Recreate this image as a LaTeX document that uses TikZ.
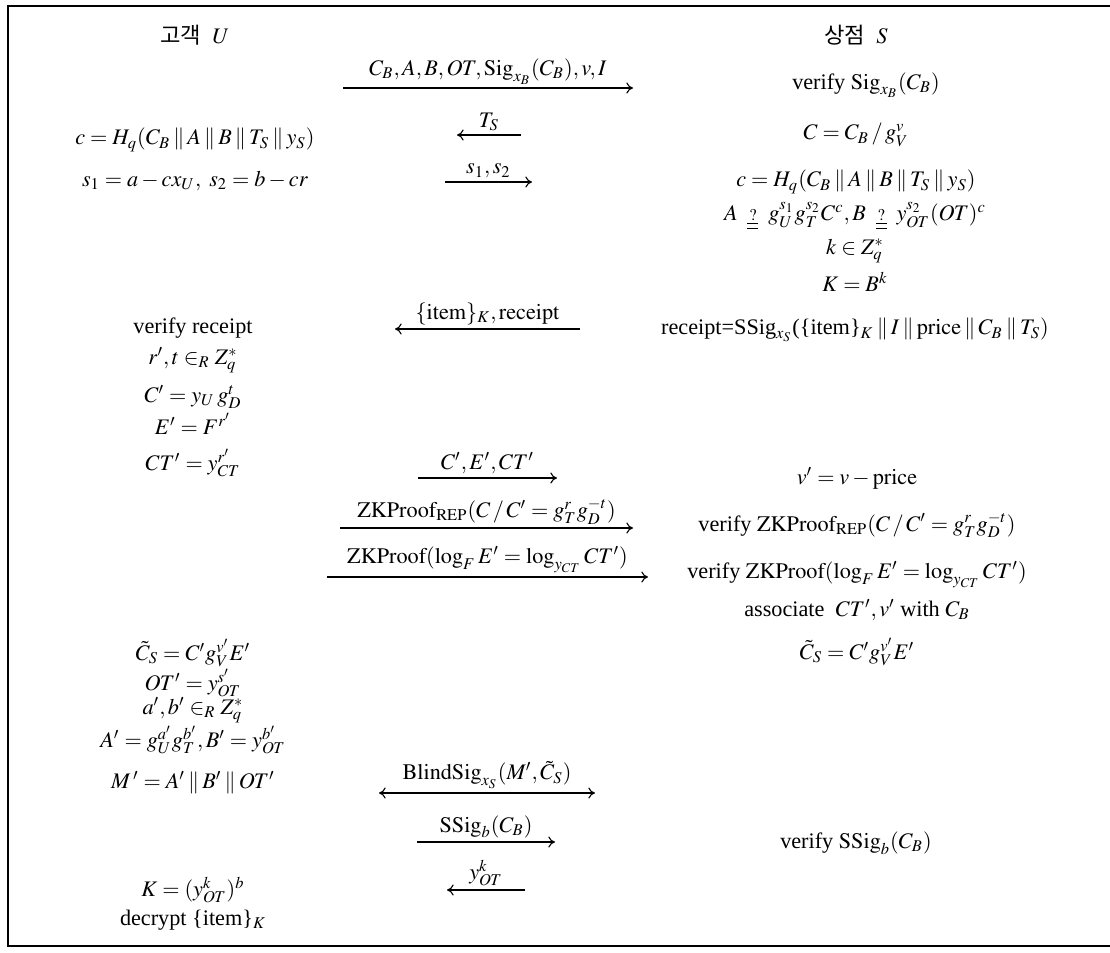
\documentclass[tikz,border=0pt]{standalone}
\usepackage{mathptmx}
\usepackage{fontspec}
\setmainfont{Liberation Serif}
\newfontfamily\kr{Noto Sans CJK KR}
\usetikzlibrary{arrows.meta}
\newcommand{\cc}{\mathbin{\|}}
\newcommand{\qeq}{\mathrel{\;\underline{\underline{\scriptstyle\,?\,}}\;}}
\begin{document}
\begin{tikzpicture}[x=0.45pt,y=-0.45pt,
  txt/.style={inner sep=0pt,anchor=center},
  msg/.style={line width=0.5pt,-{To[length=3pt,width=5pt]}},
  bmsg/.style={line width=0.5pt,{To[length=3pt,width=5pt]}-{To[length=3pt,width=5pt]}},
  lbl/.style={above,inner sep=1.5pt,midway},
  frame/.style={line width=0.8pt}]
\useasboundingbox (0,0) rectangle (1110,952);
% frame
\coordinate (f1) at (1110,6);
\coordinate (f2) at (8,6);
\coordinate (f3) at (8,946);
\coordinate (f4) at (1110,946);
\draw[frame] (f1) -- (f2) -- (f3) -- (f4);
% headers
\node[txt] (hu) at (195,35) {{\kr 고객}~~$U$};
\node[txt] (hs) at (856,35) {{\kr 상점}~~$S$};
% left column
\node[txt] (l1) at (195,140) {$c = H_q(C_B \cc A \cc B \cc T_S \cc y_S)$};
\node[txt] (l2) at (195,181) {$s_1 = a - cx_U,\ s_2 = b - cr$};
\node[txt] (l3) at (193,328) {verify receipt};
\node[txt] (l4) at (193,360) {$r',t \in_R Z_q^{*}$};
\node[txt] (l5) at (193,397) {$C' = y_U\, g_D^{t}$};
\node[txt] (l6) at (193,424) {$E' = F^{r'}$};
\node[txt] (l7) at (193,463) {$CT' = y_{CT}^{r'}$};
\node[txt] (l8) at (193,653) {$\tilde C_S = C' g_V^{v'} E'$};
\node[txt] (l9) at (193,683) {$OT' = y_{OT}^{s'}$};
\node[txt] (l10) at (193,710) {$a',b' \in_R Z_q^{*}$};
\node[txt] (l11) at (193,740) {$A' = g_U^{a'} g_T^{b'}, B' = y_{OT}^{b'}$};
\node[txt] (l12) at (193,783) {$M\,' = A' \cc B' \cc OT'$};
\node[txt] (l13) at (193,890) {$K = (y_{OT}^{k})^{b}$};
\node[txt] (l14) at (193,920) {decrypt \{item\}$_K$};
% right column
\node[txt] (r1) at (866,85) {verify $\mathrm{Sig}_{x_B}(C_B)$};
\node[txt] (r2) at (856,135) {$C = C_B \,/\, g_V^{v}$};
\node[txt] (r3) at (856,182) {$c = H_q(C_B \cc A \cc B \cc T_S \cc y_S)$};
\node[txt] (r4) at (855,216) {$A \qeq g_U^{s_1} g_T^{s_2} C^{c}, B \qeq y_{OT}^{s_2}(OT)^{c}$};
\node[txt] (r5) at (855,251) {$k \in Z_q^{*}$};
\node[txt] (r6) at (855,282) {$K = B^{k}$};
\node[txt] (r7) at (855,330) {receipt=SSig$_{x_S}$(\{item\}$_K \cc I \cc \mathrm{price} \cc C_B \cc T_S)$};
\node[txt] (r8) at (857,478) {$v' = v - \mathrm{price}$};
\node[txt] (r9) at (857,525) {verify $\mathrm{ZKProof}_{\mathrm{REP}}(C \,/\, C' = g_T^{r} g_D^{-t})$};
\node[txt] (r10) at (857,575) {verify $\mathrm{ZKProof}(\log_F E' = \log_{y_{CT}} CT')$};
\node[txt] (r11) at (857,610) {associate~ $CT', v'$ with $C_B$};
\node[txt] (r12) at (857,652) {$\tilde C_S = C' g_V^{v'} E'$};
\node[txt] (r13) at (856,843) {verify $\mathrm{SSig}_b(C_B)$};
% message end points
\coordinate (m1a) at (343,88);  \coordinate (m1b) at (633,88);
\coordinate (m2a) at (521,135); \coordinate (m2b) at (457,135);
\coordinate (m3a) at (445,182); \coordinate (m3b) at (532,182);
\coordinate (m4a) at (580,329); \coordinate (m4b) at (395,329);
\coordinate (m5a) at (418,478); \coordinate (m5b) at (557,478);
\coordinate (m6a) at (340,528); \coordinate (m6b) at (633,528);
\coordinate (m7a) at (327,577); \coordinate (m7b) at (648,577);
\coordinate (m8a) at (379,793); \coordinate (m8b) at (595,793);
\coordinate (m9a) at (417,842); \coordinate (m9b) at (555,842);
\coordinate (m10a) at (525,890); \coordinate (m10b) at (447,890);
% messages
\draw[msg] (m1a) -- node[lbl] (t1) {$C_B, A, B, OT, \mathrm{Sig}_{x_B}(C_B), v, I$} (m1b);
\draw[msg] (m2a) -- node[lbl] (t2) {$T_S$} (m2b);
\draw[msg] (m3a) -- node[lbl] (t3) {$s_1, s_2$} (m3b);
\draw[msg] (m4a) -- node[lbl] (t4) {$\{\mathrm{item}\}_K, \mathrm{receipt}$} (m4b);
\draw[msg] (m5a) -- node[lbl] (t5) {$C', E', CT'$} (m5b);
\draw[msg] (m6a) -- node[lbl] (t6) {$\mathrm{ZKProof}_{\mathrm{REP}}(C \,/\, C' = g_T^{r} g_D^{-t})$} (m6b);
\draw[msg] (m7a) -- node[lbl] (t7) {$\mathrm{ZKProof}(\log_F E' = \log_{y_{CT}} CT')$} (m7b);
\draw[bmsg] (m8a) -- node[lbl] (t8) {$\mathrm{BlindSig}_{x_S}(M', \tilde C_S)$} (m8b);
\draw[msg] (m9a) -- node[lbl] (t9) {$\mathrm{SSig}_b(C_B)$} (m9b);
\draw[msg] (m10a) -- node[lbl] (t10) {$y_{OT}^{k}$} (m10b);
\end{tikzpicture}
\end{document}
